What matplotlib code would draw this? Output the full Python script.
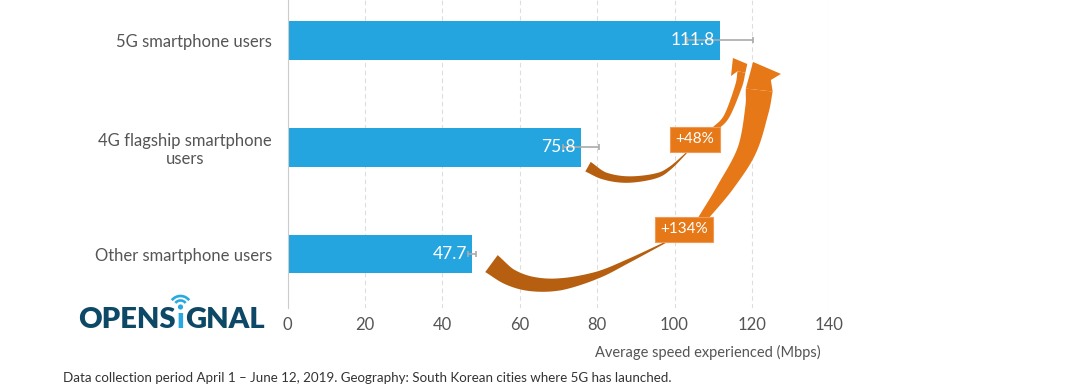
import matplotlib
matplotlib.use("Agg")
import matplotlib.pyplot as plt
import numpy as np
from matplotlib.patches import Polygon, Arc, Circle
from matplotlib.transforms import IdentityTransform

plt.rcParams['font.family'] = ['Lato', 'DejaVu Sans']

# ---------------- data ----------------
categories = ["5G smartphone users", "4G flagship smartphone\nusers", "Other smartphone users"]
speeds = [111.8, 75.8, 47.7]
errors = [8.5, 4.7, 1.1]
xticks = [0, 20, 40, 60, 80, 100, 120, 140]
uplift_labels = ["+48%", "+134%"]
xlabel = "Average speed experienced (Mbps)"
footnote = ("Data collection period April 1 \u2013 June 12, 2019. "
            "Geography: South Korean cities where 5G has launched.")

BLUE = "#25A5E0"
ORANGE = "#E67817"
DARK_ORANGE = "#B65F10"
TEXT = "#555555"

W, H = 1069, 392
fig = plt.figure(figsize=(W / 100, H / 100), dpi=100)
ax = fig.add_axes([287.5 / W, (H - 307.5) / H, (829.3 - 287.5) / W, 307.5 / H])

y = np.arange(len(categories))
ax.barh(y, speeds, height=0.36, color=BLUE, zorder=2)
ax.errorbar(speeds, y, xerr=errors, fmt='none', ecolor='#AAAAAA',
            elinewidth=1.2, capsize=2.2, capthick=1.2, zorder=3)

ax.set_xlim(0, 140)
ax.set_ylim(2.5, -0.379)
ax.set_xticks(xticks)
ax.set_xticklabels([str(t) for t in xticks])
ax.set_yticks(y)
ax.set_yticklabels(categories)
for lab in ax.get_yticklabels():
    lab.set_multialignment('center')
ax.tick_params(axis='x', length=0, pad=7, labelsize=12, labelcolor=TEXT)
ax.tick_params(axis='y', length=0, pad=11, labelsize=12, labelcolor=TEXT)
ax.xaxis.grid(True, linestyle=(0, (4, 3)), color='#DDDDDD', lw=0.8)
ax.set_axisbelow(True)
for s in ['top', 'right', 'bottom']:
    ax.spines[s].set_visible(False)
ax.spines['left'].set_color('#CCCCCC')
ax.spines['left'].set_linewidth(0.8)

ax.set_xlabel(xlabel, fontsize=10.5, color=TEXT, va='center')
ax.xaxis.set_label_coords(0.776, -(352 - 307.5) / 307.5)

# value labels
for i, v in enumerate(speeds):
    ax.annotate(f"{v}", xy=(v, i), xytext=(-5, 0), textcoords='offset pixels',
                ha='right', va='center', color='white', fontsize=12.5, zorder=4)

# ---------------- curved arrows ----------------
def catmull(pts, n=24):
    P = np.vstack([2 * pts[0] - pts[1], pts, 2 * pts[-1] - pts[-2]])
    out = []
    for i in range(1, len(P) - 2):
        p0, p1, p2, p3 = P[i - 1], P[i], P[i + 1], P[i + 2]
        t = np.linspace(0, 1, n, endpoint=False)[:, None]
        seg = 0.5 * ((2 * p1) + (-p0 + p2) * t + (2 * p0 - 5 * p1 + 4 * p2 - p3) * t ** 2
                     + (-p0 + 3 * p1 - 3 * p2 + p3) * t ** 3)
        out.append(seg)
    out.append(P[-2][None, :])
    return np.vstack(out), n


def band(pts_data, widths_px, color):
    disp = ax.transData.transform(np.asarray(pts_data, float))
    C, n = catmull(disp)
    idx = np.arange(len(C))
    ctrl = np.arange(len(widths_px)) * n
    w = np.interp(idx, ctrl, widths_px)
    T = np.gradient(C, axis=0)
    T /= np.linalg.norm(T, axis=1)[:, None]
    N = np.column_stack([-T[:, 1], T[:, 0]])
    L = C + N * w[:, None] / 2
    R = C - N * w[:, None] / 2
    poly = np.vstack([L, R[::-1]])
    ax.add_patch(Polygon(ax.transData.inverted().transform(poly), closed=True,
                         fc=color, ec='none', zorder=5, clip_on=False))
    ends = sorted([L[-1], R[-1]], key=lambda p: p[0])
    return ax.transData.inverted().transform(np.array(ends))


def head(ends, left_extra, right_extra, color):
    pts = np.vstack([ends[0], *left_extra, *right_extra, ends[1]])
    ax.add_patch(Polygon(pts, closed=True, fc=color, ec='none', zorder=5, clip_on=False))


# 4G -> 5G arrow
band([(77.65, 1.182), (82.0, 1.269), (88.0, 1.302), (95.0, 1.269), (98.9, 1.194), (104.0, 1.02)],
     [11, 7.5, 6.5, 5, 3, 0.6], DARK_ORANGE)
e = band([(110.0, 0.838), (113.4, 0.714), (116.5, 0.433), (117.3, 0.295)],
         [4.5, 5.5, 7, 8], ORANGE)
head(e, [(114.6, 0.333), (115.1, 0.164)], [(118.8, 0.220)], ORANGE)

# Other -> 5G arrow
band([(52.7, 2.089), (57.5, 2.215), (63.4, 2.281), (70.8, 2.281), (80.0, 2.197),
      (88.0, 2.066), (98.9, 1.868)],
     [21, 17, 14.5, 12, 7, 4, 1], DARK_ORANGE)
e = band([(106.6, 1.700), (113.1, 1.372), (118.7, 1.026), (121.3, 0.651), (121.9, 0.464)],
         [8, 15, 19, 24, 27], ORANGE)
head(e, [(120.3, 0.201)], [(127.5, 0.313), (124.9, 0.370)], ORANGE)

# percentage labels
box = dict(boxstyle='square,pad=0.36', fc=ORANGE, ec='#F09A55', lw=0.8)
ax.text(105.3, 0.923, uplift_labels[0], ha='center', va='center', color='white',
        fontsize=11, bbox=box, zorder=6)
ax.text(102.5, 1.766, uplift_labels[1], ha='center', va='center', color='white',
        fontsize=11, bbox=box, zorder=6)

# ---------------- logo ----------------
renderer = fig.canvas.get_renderer()
LOGO = "#0D4966"
LOGO_BLUE = "#29A9E1"
base_y = 1 - 327.7 / H
t1 = fig.text(78 / W, base_y, "OPENS", fontsize=21, fontweight='heavy', color=LOGO, va='baseline')
bb = t1.get_window_extent(renderer)
t2 = fig.text((bb.x1 + 1) / W, base_y, "\u0131", fontsize=21, fontweight='heavy',
              color=LOGO_BLUE, va='baseline')
bb2 = t2.get_window_extent(renderer)
t3 = fig.text((bb2.x1 + 1) / W, base_y, "GNAL", fontsize=21, fontweight='heavy',
              color=LOGO, va='baseline')
cx = (bb2.x0 + bb2.x1) / 2
cy = H - 307.0
fig.patches.append(Circle((cx, cy), 2.6, transform=IdentityTransform(), fc=LOGO_BLUE, ec='none'))
for r in (6.5, 11):
    fig.patches.append(Arc((cx, cy), 2 * r, 2 * r, theta1=38, theta2=142,
                           transform=IdentityTransform(), color=LOGO_BLUE, lw=1.9))

# footnote
fig.text(63 / W, 1 - 378 / H, footnote, fontsize=9.6, color='#333333', va='center')

fig.savefig("out.png", dpi=100)
